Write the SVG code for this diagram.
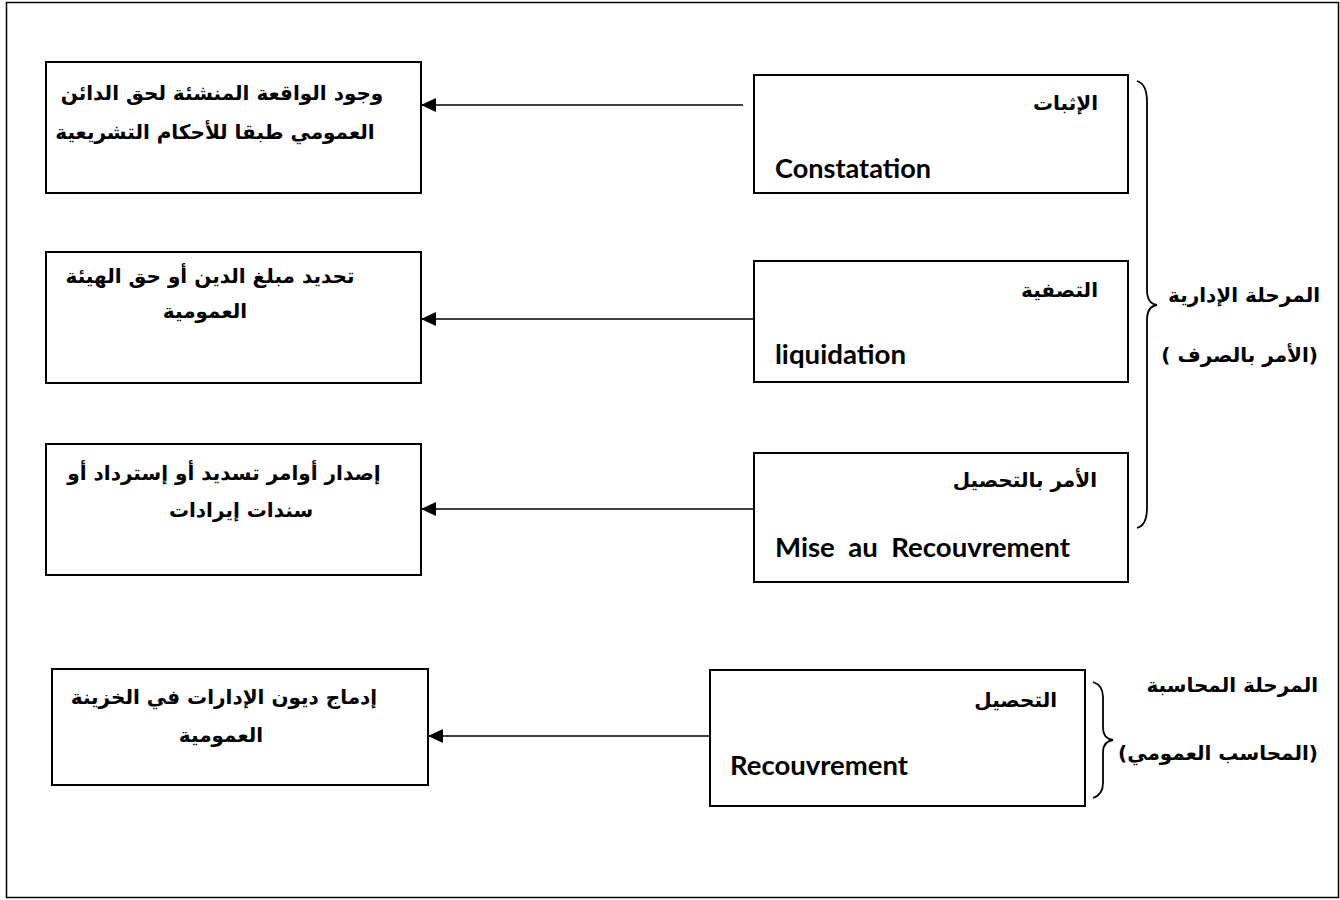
<svg xmlns="http://www.w3.org/2000/svg" width="1340" height="900" viewBox="0 0 1340 900">
  <style>
    .frame { fill: none; stroke: #000; stroke-width: 1.5; }
    .box { fill: #fff; stroke: #000; stroke-width: 2; }
    .conn { stroke: #000; stroke-width: 1.6; fill: none; }
    .brace { stroke: #000; stroke-width: 1.8; fill: none; }
    .ar { font-family: "DejaVu Sans", sans-serif; font-weight: bold; font-size: 20px; fill: #000; direction: rtl; }
    .right { text-anchor: start; }
    .mid { text-anchor: middle; }
    .lat { font-family: "Lato", "Liberation Sans", sans-serif; font-weight: bold; font-size: 26px; fill: #000; }
  </style>
  <defs>
    <marker id="arrow" markerWidth="16" markerHeight="14" refX="15" refY="7" orient="auto" markerUnits="userSpaceOnUse">
      <path d="M0,0 L15,7 L0,14 Z" fill="#000"/>
    </marker>
  </defs>

  <rect width="1340" height="900" fill="#fff"/>
  <!-- page frame -->
  <rect class="frame" x="6.5" y="2.5" width="1332" height="895"/>

  <!-- connectors: each stage points to its description on the left -->
  <g id="connectors">
    <line class="conn" x1="743" y1="105" x2="421" y2="105" marker-end="url(#arrow)"/>
    <line class="conn" x1="754" y1="319" x2="421" y2="319" marker-end="url(#arrow)"/>
    <line class="conn" x1="754" y1="509" x2="421" y2="509" marker-end="url(#arrow)"/>
    <line class="conn" x1="710" y1="736" x2="428" y2="736" marker-end="url(#arrow)"/>
  </g>

  <!-- stage boxes (right column) -->
  <g id="stage-constatation">
    <rect class="box" x="754" y="75" width="374" height="118"/>
    <text class="ar right" x="1098" y="110">الإثبات</text>
    <text class="lat" x="775" y="178" textLength="156" lengthAdjust="spacingAndGlyphs">Constatation</text>
  </g>
  <g id="stage-liquidation">
    <rect class="box" x="754" y="261" width="374" height="121"/>
    <text class="ar right" x="1098" y="297">التصفية</text>
    <text class="lat" x="775" y="364" textLength="131" lengthAdjust="spacingAndGlyphs">liquidation</text>
  </g>
  <g id="stage-mise">
    <rect class="box" x="754" y="453" width="374" height="129"/>
    <text class="ar right" x="1097" y="487">الأمر بالتحصيل</text>
    <text class="lat" x="775" y="557" textLength="295" lengthAdjust="spacingAndGlyphs" xml:space="preserve">Mise  au  Recouvrement</text>
  </g>
  <g id="stage-recouvrement">
    <rect class="box" x="710" y="670" width="375" height="136"/>
    <text class="ar right" x="1057" y="707">التحصيل</text>
    <text class="lat" x="730" y="775" textLength="178" lengthAdjust="spacingAndGlyphs">Recouvrement</text>
  </g>

  <!-- description boxes (left column) -->
  <g id="desc-constatation">
    <rect class="box" x="46" y="62" width="375" height="131"/>
    <text class="ar mid" x="222" y="100">وجود الواقعة المنشئة لحق الدائن</text>
    <text class="ar mid" x="215" y="139">العمومي طبقا للأحكام التشريعية</text>
  </g>
  <g id="desc-liquidation">
    <rect class="box" x="46" y="252" width="375" height="131"/>
    <text class="ar mid" x="210" y="283">تحديد مبلغ الدين أو حق الهيئة</text>
    <text class="ar mid" x="205" y="318">العمومية</text>
  </g>
  <g id="desc-mise">
    <rect class="box" x="46" y="444" width="375" height="131"/>
    <text class="ar mid" x="224" y="480">إصدار أوامر تسديد أو إسترداد أو</text>
    <text class="ar mid" x="241" y="517">سندات إيرادات</text>
  </g>
  <g id="desc-recouvrement">
    <rect class="box" x="52" y="669" width="376" height="116"/>
    <text class="ar mid" x="224" y="704">إدماج ديون الإدارات في الخزينة</text>
    <text class="ar mid" x="221" y="742">العمومية</text>
  </g>

  <!-- administrative phase -->
  <g id="phase-admin">
    <path class="brace" d="M1137,81 C1144,83 1147,90 1147,102 L1147,290 C1147,299 1150,304 1157,305 C1150,306 1147,311 1147,320 L1147,508 C1147,520 1144,526 1137,528"/>
    <text class="ar right" x="1320" y="302">المرحلة الإدارية</text>
    <text class="ar right" x="1318" y="362" xml:space="preserve">(الأمر بالصرف )</text>
  </g>

  <!-- accounting phase -->
  <g id="phase-accounting">
    <path class="brace" d="M1093,682 C1099,684 1103,689 1103,697 L1103,728 C1103,735 1106,739 1113,740 C1106,741 1103,745 1103,752 L1103,783 C1103,791 1099,796 1093,798"/>
    <text class="ar right" x="1318" y="692">المرحلة المحاسبة</text>
    <text class="ar right" x="1318" y="760">(المحاسب العمومي)</text>
  </g>
</svg>
